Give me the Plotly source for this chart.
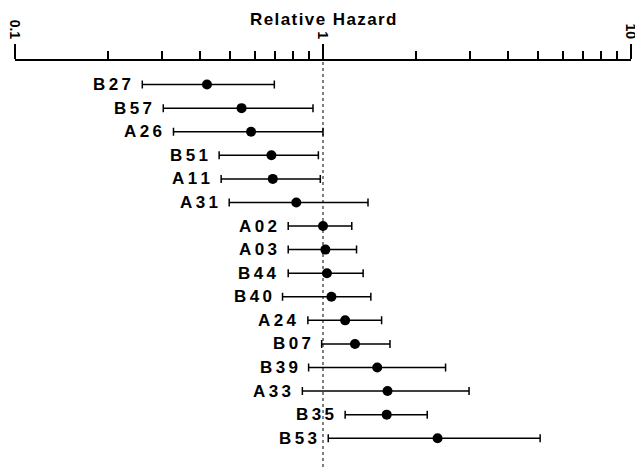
import math
import plotly.graph_objects as go

labels = ["B27", "B57", "A26", "B51", "A11", "A31", "A02", "A03",
          "B44", "B40", "A24", "B07", "B39", "A33", "B35", "B53"]
hazard = [0.42, 0.544, 0.584, 0.68, 0.687, 0.819, 1.0, 1.018,
          1.03, 1.065, 1.18, 1.27, 1.50, 1.62, 1.61, 2.355]
ci_low = [0.259, 0.303, 0.327, 0.46, 0.467, 0.496, 0.771, 0.771,
          0.771, 0.739, 0.893, 0.99, 0.898, 0.857, 1.18, 1.04]
ci_high = [0.695, 0.928, 1.0, 0.966, 0.98, 1.40, 1.24, 1.285,
           1.35, 1.43, 1.55, 1.65, 2.50, 2.98, 2.18, 5.07]
tick_vals = [0.1, 1, 10]
tick_text = ["0.1", "1", "10"]
minor_vals = [0.2, 0.3, 0.4, 0.5, 0.6, 0.7, 0.8, 0.9,
              2, 3, 4, 5, 6, 7, 8, 9]
title_text = "Relative Hazard"

rows = list(range(1, len(labels) + 1))

fig = go.Figure()
fig.add_trace(go.Scatter(
    x=hazard, y=rows, mode="markers",
    marker=dict(color="black", size=10),
    error_x=dict(type="data", symmetric=False,
                 array=[h - p for h, p in zip(ci_high, hazard)],
                 arrayminus=[p - l for p, l in zip(hazard, ci_low)],
                 color="black", thickness=1.5, width=4),
    showlegend=False, hoverinfo="skip",
))

for lab, lo, r in zip(labels, ci_low, rows):
    fig.add_annotation(
        x=math.log10(lo), y=r, xref="x", yref="y", text="\u2009".join(lab),
        showarrow=False, xanchor="right", yanchor="middle", xshift=-9,
        font=dict(family="Liberation Sans, Arial", size=17, color="black", weight="bold"),
    )

fig.add_shape(type="line", x0=1, x1=1, xref="x", y0=0, y1=1, yref="y domain",
              line=dict(color="black", width=1, dash="dot"))

fig.add_annotation(
    x=0, y=1, xref="x", yref="paper", yanchor="middle", xanchor="center",
    text="\u200a".join(title_text), showarrow=False, yshift=42,
    font=dict(family="Liberation Sans, Arial", size=17, color="black", weight="bold"),
)

fig.update_layout(
    width=635, height=467,
    margin=dict(l=15, r=4, t=61, b=0, autoexpand=False),
    plot_bgcolor="white", paper_bgcolor="white",
    xaxis=dict(
        type="log", range=[-1, 1], side="top", automargin=False,
        tickvals=tick_vals, ticktext=tick_text, tickangle=90,
        ticklabeloverflow="allow",
        ticks="outside", ticklen=15, tickwidth=2, tickcolor="black",
        showline=True, linecolor="black", linewidth=2,
        showgrid=False, zeroline=False,
        tickfont=dict(family="Liberation Sans, Arial", size=14, color="black", weight="bold"),
        minor=dict(tickvals=minor_vals, ticks="outside", ticklen=8, tickwidth=2,
                   tickcolor="black", showgrid=False),
    ),
    yaxis=dict(range=[17.22, 0], visible=False, showgrid=False, zeroline=False,
               automargin=False),
)

fig.write_html("out.html", config={"displayModeBar": False},
               post_script="document.body.style.margin='0';")
